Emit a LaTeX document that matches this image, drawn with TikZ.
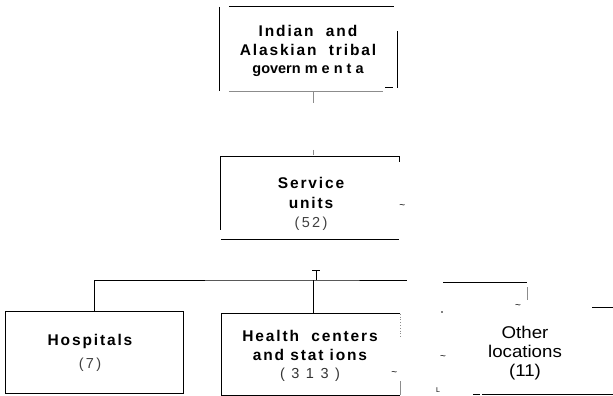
\documentclass[tikz,border=0pt]{standalone}
\usepackage{fontspec}
\usepackage{graphicx}
\setmainfont{Liberation Sans}
\newfontfamily\spacedfont[LetterSpace=12]{Liberation Sans}
\newfontfamily\numfont[LetterSpace=16]{Liberation Sans}
\newfontfamily\widenumfont[LetterSpace=45]{Liberation Sans}
\usetikzlibrary{positioning,calc}

\tikzset{
  boxarea/.style={draw=none, inner sep=0pt},
  heading/.style={align=center, inner sep=0pt,
    font=\spacedfont\bfseries\fontsize{15.5}{18.5}\selectfont},
  narrow/.style={align=center, inner sep=0pt, font=\fontsize{17}{19}\selectfont},
  edge/.style={line width=0.9pt, black},
  faint/.style={line width=0.8pt, black!45},
  speck/.style={font=\fontsize{10}{10}\selectfont, inner sep=0pt},
}
\newcommand{\cnt}[1]{{\numfont\mdseries\fontsize{14.5}{18}\selectfont\color{black!75}#1}}
\newcommand{\tall}[1]{\scalebox{1.1}[1]{#1}}

\begin{document}
\begin{tikzpicture}[x=1pt, y=-1pt]
    \useasboundingbox (0,0) rectangle (613,396);

    % Tribal governments
    \node[boxarea, minimum width=177pt, minimum height=84pt] (gov) at (308.5,49) {};
    \node[heading] (govtext) at (308,51)
        {Indian\ \ and\\Alaskian\ \ tribal\\{\normalfont\bfseries\fontsize{14.5}{18.5}\selectfont govern m e n t a}};
    \draw[edge] (gov.north west) -- (gov.south west);
    \draw[edge] ([xshift=9pt]gov.north west) -- ([xshift=-3pt]gov.north east);
    \draw[edge] ([yshift=-24pt]gov.north east) -- ([yshift=3pt]gov.south east);
    \draw[faint] ([xshift=9pt]gov.south west) -- ([xshift=-14pt]gov.south east);
    \draw[edge] ([xshift=-12pt,yshift=4pt]gov.south east) -- ([xshift=-4pt,yshift=4pt]gov.south east);

    \coordinate (spine) at (313,0);
    \draw[faint] (gov.south -| spine) -- ++(0,12);

    % Service units
    \node[boxarea, minimum width=178pt, minimum height=82pt] (su) at (310,198) {};
    \node[heading, font=\spacedfont\bfseries\fontsize{15.5}{19.5}\selectfont] (sutext) at (311,204)
        {Service\\units\\\cnt{(52)}};
    \draw[faint] ($(su.north -| spine)+(0,-7)$) -- ($(su.north -| spine)+(0,-2)$);
    \draw[edge, line width=0.7pt] ([yshift=-5pt]su.north west) -- (su.north west)
        -- (su.north east) -- ([yshift=-5pt]su.north east);
    \draw[edge] (su.north west) -- ([yshift=9pt]su.south west);
    \draw[edge] (su.south west) -- (su.south east);
    \node[speck] (sutl) at ([xshift=3pt,yshift=-9pt]su.east) {\textasciitilde};

    % Branch line
    \coordinate (bus) at (313,280);
    \draw[edge, line width=0.7pt] ([xshift=3pt]bus) -- ++(0,-10) ++(-4,0) -- ++(8,0);

    % Hospitals
    \node[boxarea, minimum width=177pt, minimum height=81pt] (hosp) at (94.5,352.5) {};
    \node[heading, font=\spacedfont\bfseries\fontsize{15.5}{23}\selectfont] (hosptext) at (90,353)
        {Hospitals\\\cnt{(7)}};
    \draw[edge] (hosp.north west) rectangle (hosp.south east);

    % Health centers
    \node[boxarea, minimum width=178pt, minimum height=81pt] (hc) at (311,354.5) {};
    \node[heading] (hctext) at (310,356)
        {Health\ \ centers\\and stat ions\\[-0.5pt]{\widenumfont\mdseries\fontsize{14.5}{18}\selectfont\color{black!80}(313)}};
    \draw[edge] (hc.north east) -- (hc.north west) -- (hc.south west) -- (hc.south east);
    \draw[faint, dotted] (hc.north east) -- ([yshift=-24pt]hc.north east);
    \draw[faint] ([yshift=14pt]hc.south east) -- (hc.south east);
    \node[speck] (hctl) at ([xshift=-6pt,yshift=-19pt]hc.east) {\textasciitilde};

    % Other locations
    \node[boxarea, minimum width=173pt, minimum height=85pt] (oth) at (526.5,351.5) {};
    \node[narrow] (othtext) at (525,353)
        {\tall{Other}\\\tall{locations}\\\tall{(11)}};
    \draw[edge] ([xshift=-131pt]oth.south east) -- (oth.south east);
    \draw[edge] ([xshift=-140pt]oth.south east) -- ++(7,0);
    \draw[edge] ([xshift=-21pt,yshift=87pt]oth.south east) -- ++(21,0);
    \node[speck] (othl) at (438,390) {\fontsize{7}{7}\selectfont L};
    \node[speck] (otht1) at (443,358) {\textasciitilde};
    \node[speck] (otht2) at (518,307) {\textasciitilde};
    \fill (442,312) circle (0.9pt);

    % Connectors
    \draw[edge] (hosp.north) |- (bus) -- ++(94,0);
    \draw[edge] (bus) -- (hc.north -| bus);
    \draw[edge] (443,282) -- (527,282);
    \draw[faint] (527,287) -- (527,300);
\end{tikzpicture}
\end{document}
